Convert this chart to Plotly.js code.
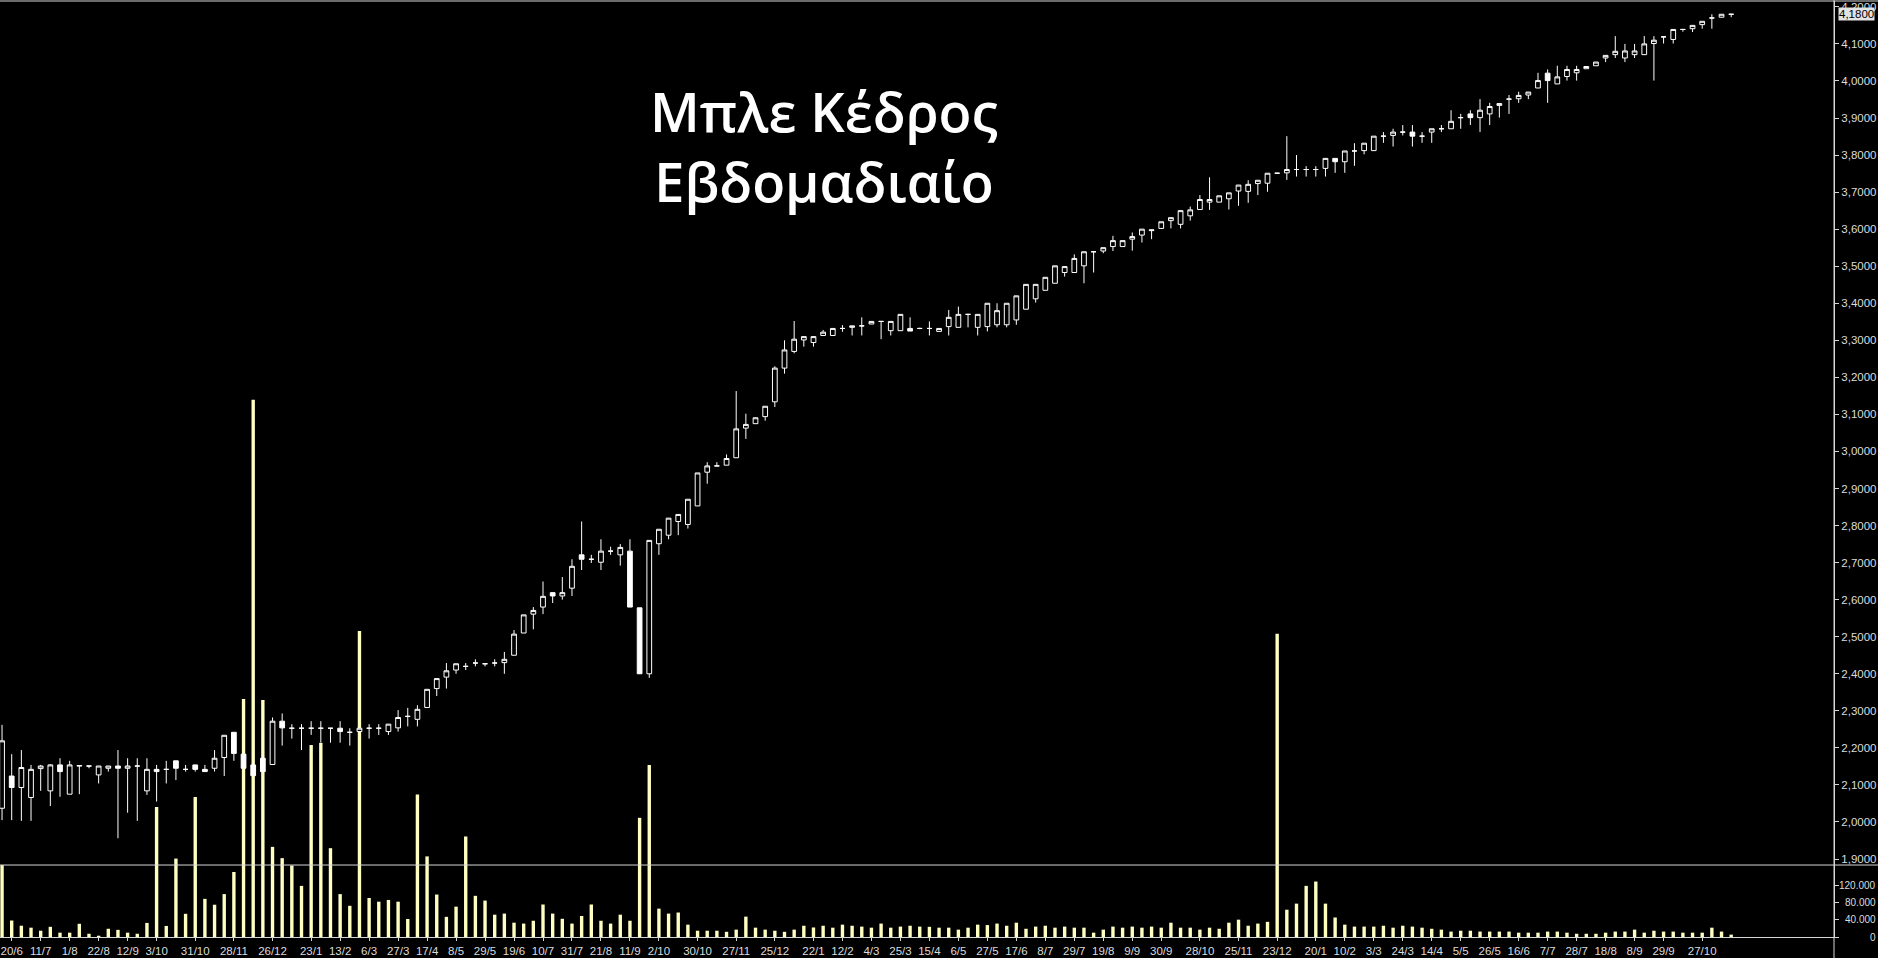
<!DOCTYPE html>
<html>
<head>
<meta charset="utf-8">
<script src="https://cdn.plot.ly/plotly-3.0.1.min.js"></script>
<style>
html,body{margin:0;padding:0;background:#000;}
#chart{width:1878px;height:958px;}
</style>
</head>
<body>
<div id="chart"></div>
<script>
// weekly bars, first bar = week of 13/6/2022
var firstWeek = '2022-06-13';
var openP = [2.037,2.124,2.093,2.066,2.144,2.084,2.154,2.075,2.151,2.151,2.127,2.145,2.151,2.145,2.151,2.084,2.142,2.142,2.165,2.142,2.154,2.142,2.145,2.174,2.242,2.183,2.154,2.172,2.155,2.272,2.253,2.253,2.253,2.253,2.253,2.253,2.242,2.244,2.253,2.253,2.244,2.254,2.285,2.277,2.309,2.360,2.391,2.410,2.420,2.429,2.427,2.429,2.430,2.450,2.510,2.561,2.580,2.619,2.610,2.631,2.721,2.709,2.701,2.731,2.721,2.731,2.578,2.400,2.751,2.774,2.811,2.803,2.853,2.944,2.961,2.963,2.983,3.063,3.075,3.094,3.134,3.225,3.270,3.301,3.294,3.313,3.313,3.332,3.335,3.339,3.344,3.351,3.326,3.326,3.332,3.332,3.332,3.324,3.337,3.335,3.370,3.335,3.337,3.342,3.342,3.355,3.384,3.412,3.435,3.454,3.483,3.483,3.501,3.539,3.541,3.553,3.553,3.573,3.584,3.596,3.602,3.623,3.613,3.636,3.653,3.673,3.673,3.682,3.703,3.702,3.723,3.724,3.751,3.752,3.761,3.761,3.761,3.764,3.791,3.782,3.811,3.812,3.812,3.851,3.853,3.862,3.862,3.851,3.862,3.871,3.871,3.901,3.911,3.901,3.911,3.934,3.951,3.952,3.962,3.981,4.021,3.992,4.012,4.022,4.033,4.041,4.062,4.071,4.062,4.071,4.071,4.101,4.119,4.112,4.139,4.141,4.152,4.170,4.172,4.180];
var highP = [2.262,2.183,2.194,2.154,2.154,2.156,2.172,2.165,2.152,2.152,2.151,2.151,2.194,2.172,2.172,2.172,2.154,2.165,2.165,2.154,2.154,2.154,2.194,2.234,2.242,2.190,2.160,2.180,2.282,2.293,2.264,2.264,2.272,2.272,2.253,2.272,2.253,2.260,2.264,2.264,2.264,2.302,2.308,2.315,2.358,2.387,2.429,2.427,2.429,2.439,2.428,2.439,2.459,2.518,2.559,2.580,2.649,2.619,2.661,2.709,2.811,2.721,2.763,2.743,2.750,2.763,2.578,2.760,2.790,2.820,2.830,2.871,2.942,2.971,2.971,2.992,3.163,3.102,3.091,3.122,3.230,3.300,3.352,3.310,3.310,3.328,3.332,3.341,3.339,3.362,3.351,3.351,3.351,3.370,3.362,3.334,3.351,3.332,3.382,3.391,3.370,3.370,3.400,3.400,3.400,3.420,3.451,3.451,3.470,3.501,3.499,3.532,3.539,3.539,3.550,3.582,3.569,3.591,3.600,3.598,3.620,3.631,3.650,3.661,3.692,3.740,3.690,3.698,3.719,3.732,3.732,3.751,3.752,3.851,3.800,3.770,3.770,3.791,3.791,3.811,3.832,3.832,3.851,3.862,3.871,3.881,3.881,3.862,3.871,3.881,3.921,3.911,3.921,3.951,3.941,3.939,3.962,3.971,3.970,4.022,4.031,4.041,4.041,4.041,4.039,4.051,4.069,4.121,4.100,4.100,4.121,4.121,4.119,4.139,4.139,4.150,4.161,4.180,4.180,4.180];
var lowP = [2.005,2.005,2.003,2.003,2.084,2.043,2.068,2.075,2.075,2.145,2.104,2.136,1.956,2.025,2.003,2.073,2.055,2.104,2.113,2.136,2.136,2.136,2.136,2.124,2.165,2.140,2.120,2.130,2.155,2.206,2.225,2.194,2.235,2.214,2.214,2.214,2.206,2.235,2.225,2.235,2.235,2.244,2.258,2.258,2.309,2.340,2.360,2.400,2.410,2.420,2.420,2.420,2.400,2.450,2.510,2.520,2.561,2.591,2.600,2.610,2.680,2.699,2.680,2.721,2.692,2.580,2.400,2.389,2.721,2.763,2.774,2.792,2.853,2.913,2.961,2.963,2.983,3.034,3.075,3.083,3.120,3.210,3.265,3.283,3.283,3.313,3.313,3.323,3.313,3.313,3.344,3.303,3.313,3.326,3.325,3.330,3.313,3.324,3.313,3.335,3.335,3.313,3.324,3.335,3.335,3.342,3.384,3.402,3.435,3.454,3.472,3.483,3.454,3.483,3.535,3.541,3.553,3.542,3.564,3.573,3.602,3.602,3.602,3.623,3.653,3.652,3.673,3.653,3.663,3.671,3.692,3.701,3.750,3.733,3.742,3.742,3.742,3.742,3.752,3.752,3.771,3.802,3.812,3.833,3.823,3.853,3.823,3.833,3.833,3.862,3.871,3.871,3.881,3.862,3.881,3.901,3.911,3.941,3.951,3.981,3.941,3.992,4.001,4.001,4.033,4.041,4.051,4.062,4.051,4.062,4.071,4.001,4.101,4.101,4.133,4.132,4.141,4.141,4.172,4.172];
var closeP = [2.219,2.093,2.147,2.142,2.151,2.154,2.136,2.154,2.152,2.151,2.151,2.151,2.145,2.151,2.151,2.142,2.136,2.142,2.145,2.142,2.142,2.136,2.172,2.234,2.185,2.145,2.125,2.136,2.272,2.254,2.253,2.253,2.253,2.253,2.253,2.244,2.242,2.253,2.253,2.253,2.264,2.282,2.285,2.304,2.358,2.387,2.408,2.427,2.420,2.429,2.427,2.429,2.439,2.507,2.559,2.571,2.609,2.610,2.619,2.690,2.709,2.709,2.731,2.731,2.741,2.580,2.400,2.760,2.790,2.820,2.830,2.871,2.942,2.961,2.961,2.981,3.061,3.073,3.091,3.122,3.225,3.274,3.303,3.310,3.310,3.322,3.332,3.332,3.339,3.339,3.351,3.351,3.351,3.370,3.325,3.332,3.332,3.332,3.362,3.370,3.370,3.370,3.400,3.380,3.400,3.420,3.451,3.451,3.470,3.501,3.499,3.521,3.539,3.539,3.550,3.569,3.569,3.580,3.600,3.598,3.620,3.631,3.650,3.652,3.680,3.680,3.690,3.698,3.719,3.721,3.732,3.751,3.751,3.761,3.761,3.761,3.761,3.791,3.782,3.811,3.811,3.832,3.851,3.851,3.862,3.862,3.851,3.851,3.871,3.871,3.891,3.901,3.901,3.921,3.931,3.939,3.951,3.961,3.970,4.001,4.001,4.011,4.031,4.031,4.039,4.051,4.069,4.080,4.081,4.081,4.100,4.110,4.119,4.139,4.139,4.150,4.161,4.170,4.180,4.180];
var volume = [166000,38000,26000,21500,14500,23500,10000,10000,30500,7500,3000,19000,16500,10000,7500,32500,300000,25500,181000,53500,323000,88000,74500,99000,150000,549000,1240000,547000,208000,182000,165000,118000,443000,448000,205000,99000,72000,706000,90000,81500,85500,81500,41500,329000,186000,98000,46500,70000,232000,95000,84000,51500,54000,33000,31000,37500,75000,54000,42000,31000,48500,75000,37500,31000,51500,37500,275000,397000,65500,54000,56500,28500,14500,14500,14500,12000,17000,47000,21500,17000,14500,12000,17000,26000,22000,26000,21500,28500,26000,24000,21500,31000,21500,24000,26000,24000,23500,21500,21500,17000,21500,28500,27500,31000,26000,33000,19000,24000,26000,21500,24000,21500,21500,10000,17000,24000,21500,24000,21500,24000,21500,33000,21500,21500,17000,21500,19000,33000,40000,26000,31000,35000,700000,63000,77000,118000,128000,77000,45000,28500,24000,24000,24000,26000,21500,26000,24000,21500,19000,17000,12500,14500,14500,12500,12500,12500,12500,10000,10000,10000,12500,12500,10000,7500,7500,7500,10000,12500,12500,17000,10000,14500,12500,12500,10000,10000,10000,21500,12500,5500];
var tickDates = ['2022-06-20','2022-07-11','2022-08-01','2022-08-22','2022-09-12','2022-10-03','2022-10-31','2022-11-28','2022-12-26','2023-01-23','2023-02-13','2023-03-06','2023-03-27','2023-04-17','2023-05-08','2023-05-29','2023-06-19','2023-07-10','2023-07-31','2023-08-21','2023-09-11','2023-10-02','2023-10-30','2023-11-27','2023-12-25','2024-01-22','2024-02-12','2024-03-04','2024-03-25','2024-04-15','2024-05-06','2024-05-27','2024-06-17','2024-07-08','2024-07-29','2024-08-19','2024-09-09','2024-09-30','2024-10-28','2024-11-25','2024-12-23','2025-01-20','2025-02-10','2025-03-03','2025-03-24','2025-04-14','2025-05-05','2025-05-26','2025-06-16','2025-07-07','2025-07-28','2025-08-18','2025-09-08','2025-09-29','2025-10-27'];
var tickLabels = ['20/6','11/7','1/8','22/8','12/9','3/10','31/10','28/11','26/12','23/1','13/2','6/3','27/3','17/4','8/5','29/5','19/6','10/7','31/7','21/8','11/9','2/10','30/10','27/11','25/12','22/1','12/2','4/3','25/3','15/4','6/5','27/5','17/6','8/7','29/7','19/8','9/9','30/9','28/10','25/11','23/12','20/1','10/2','3/3','24/3','14/4','5/5','26/5','16/6','7/7','28/7','18/8','8/9','29/9','27/10'];
var volTickVals = [0,40000,80000,120000];
var volTickText = ['0','40.000','80.000','120.000'];
var lastPrice = 4.18;
var lastPriceText = '4,1800';

// weekly dates for the bars
var weeks = [];
var t0 = Date.parse(firstWeek + 'T00:00:00Z');
for (var i = 0; i < closeP.length; i++) {
  weeks.push(new Date(t0 + i * 7 * 86400000).toISOString().slice(0, 10));
}

var axisCol = '#d6d6d6';
var tickFont = {family: 'Liberation Sans', size: 11.5, color: '#dcdcdc'};
var volFont = {family: 'Liberation Sans', size: 10, color: '#dcdcdc'};

var volTrace = {
  type: 'bar', x: weeks, y: volume, xaxis: 'x', yaxis: 'y',
  marker: {color: '#ffffc2', line: {width: 0}}, hoverinfo: 'skip', showlegend: false
};
var candle = {
  type: 'candlestick', x: weeks, open: openP, high: highP, low: lowP, close: closeP,
  xaxis: 'x', yaxis: 'y2',
  increasing: {line: {color: '#ffffff', width: 1}, fillcolor: '#000000'},
  decreasing: {line: {color: '#ffffff', width: 1}, fillcolor: '#ffffff'},
  whiskerwidth: 0, hoverinfo: 'skip', showlegend: false
};

// volume scale labels, right-aligned like the original
var volAnn = volTickVals.map(function (v, k) {
  return {xref: 'paper', x: 1, xanchor: 'right', xshift: 43, yref: 'y', y: v, yanchor: 'middle',
          text: volTickText[k], showarrow: false, borderpad: 0, font: volFont};
});

var layout = {
  width: 1878, height: 958,
  paper_bgcolor: '#000000', plot_bgcolor: 'rgba(0,0,0,0)',
  margin: {l: 0, r: 44, t: 1, b: 21, pad: 0},
  separators: ',.',
  bargap: 0.65, boxgap: 0.3, boxgroupgap: 0.3,
  showlegend: false, hovermode: false,
  title: {
    text: 'Μπλε Κέδρος<br>Εβδομαδιαίο',
    font: {family: 'Open Sans', size: 54, color: '#ffffff', weight: 600},
    xref: 'container', x: 0.4388, xanchor: 'center',
    yref: 'container', y: 0.862, yanchor: 'middle'
  },
  xaxis: {
    type: 'date', anchor: 'y',
    range: ['2022-06-11 12:33', '2026-01-30 12:00'],
    tickmode: 'array', tickvals: tickDates, ticktext: tickLabels,
    showgrid: false, zeroline: false, showline: true, linecolor: axisCol, linewidth: 1,
    ticks: 'outside', ticklen: 3, tickcolor: axisCol, tickfont: tickFont,
    ticklabeloverflow: 'allow',
    rangeslider: {visible: false}, fixedrange: true
  },
  yaxis: {
    domain: [0, 1], anchor: 'x', side: 'right',
    range: [0, 2160000],
    tickmode: 'array', tickvals: volTickVals, showticklabels: false,
    showgrid: false, zeroline: false, showline: true, linecolor: axisCol,
    ticks: 'outside', ticklen: 4, tickcolor: axisCol, fixedrange: true
  },
  yaxis2: {
    domain: [0.0769, 1], anchor: 'x', side: 'right',
    range: [1.8838, 4.2158],
    tick0: 0, dtick: 0.1, tickformat: '.4f',
    showgrid: false, zeroline: false, showline: true, linecolor: axisCol,
    ticks: 'outside', ticklen: 4, tickcolor: axisCol, tickfont: tickFont, fixedrange: true
  },
  shapes: [
    {type: 'line', xref: 'paper', yref: 'paper', x0: 0, x1: 1.03, y0: 0.0769, y1: 0.0769, line: {color: axisCol, width: 1}},
    {type: 'line', xref: 'paper', yref: 'paper', x0: 0, x1: 1.03, y0: 1, y1: 1, line: {color: axisCol, width: 1}},
    {type: 'line', xref: 'paper', yref: 'paper', x0: 1, x1: 1, y0: -0.03, y1: 1.01, line: {color: axisCol, width: 1}}
  ],
  annotations: volAnn.concat([
    {xref: 'paper', x: 1, xanchor: 'left', xshift: 4, yref: 'y2', y: lastPrice, yanchor: 'middle',
     text: lastPriceText, showarrow: false, bgcolor: '#e2e2e2', borderpad: 0,
     font: {family: 'Liberation Sans', size: 11.5, color: '#000000'}}
  ])
};

Plotly.newPlot('chart', [volTrace, candle], layout, {staticPlot: true, displayModeBar: false});
</script>
</body>
</html>
